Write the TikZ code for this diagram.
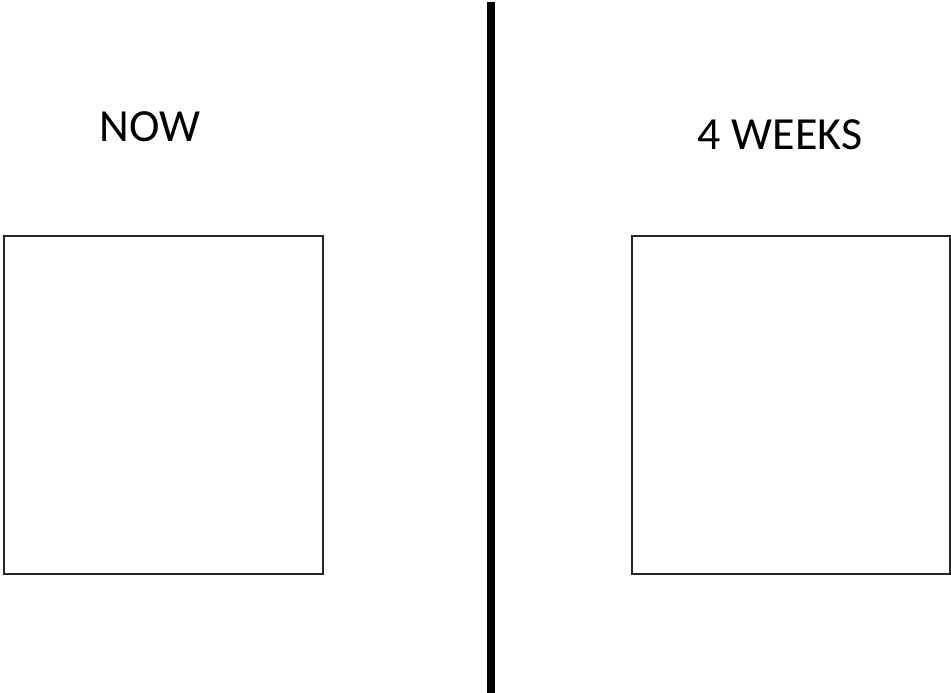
\documentclass[tikz,border=0pt]{standalone}
\usepackage{fontspec}
\setmainfont{Carlito}
\begin{document}
\begin{tikzpicture}[x=1pt,y=-1pt,
  panel/.style={draw=black!85,line width=2pt,fill=white},
  lbl/.style={font=\fontsize{46}{50}\selectfont,anchor=base,inner sep=0pt},
  divider/.style={line width=8pt,black}]
\useasboundingbox[fill=white] (0,0) rectangle (951,693);
\node[panel,minimum width=319pt,minimum height=338pt,anchor=north west,inner sep=0pt] (now) at (3,235) {};
\node[panel,minimum width=318pt,minimum height=338pt,anchor=north west,inner sep=0pt] (later) at (631,235) {};
\node[lbl] (nowlbl) at (150,141) {NOW};
\node[lbl] (laterlbl) at (780,149) {4 WEEKS};
\coordinate (top) at (491,2);
\coordinate (bot) at (491,693);
\draw[divider] (top) -- (bot);
\end{tikzpicture}
\end{document}
